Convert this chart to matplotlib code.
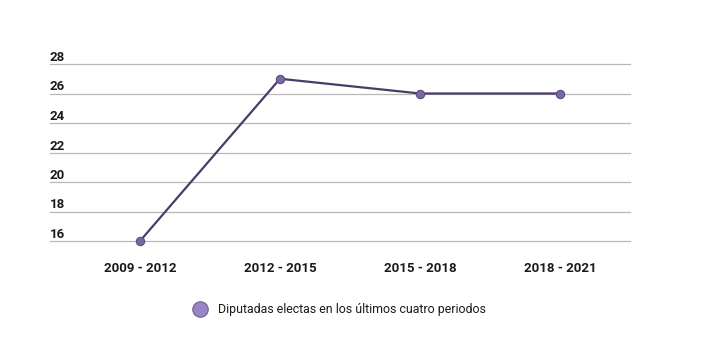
import matplotlib.pyplot as plt
import matplotlib.transforms as mtransforms

periods = ['2009 - 2012', '2012 - 2015', '2015 - 2018', '2018 - 2021']
diputadas = [16, 27, 26, 26]
yticks = [16, 18, 20, 22, 24, 26, 28]
series_label = 'Diputadas electas en los últimos cuatro periodos'


def main():
    plt.rcParams['font.family'] = ['Roboto', 'DejaVu Sans']
    fig = plt.figure(figsize=(7.01, 3.51), dpi=100)
    ax = fig.add_axes([50 / 701, 1 - 241 / 351, 580 / 701, 177 / 351])

    xs = list(range(len(periods)))
    ax.plot(xs, diputadas, color='#4b3c66', lw=1.6, zorder=3, clip_on=False)
    ax.scatter(xs, diputadas, s=36, color='#7a68a0', edgecolors='#5d4d80',
               linewidths=0.8, zorder=4, clip_on=False)

    ax.set_xlim(-0.643, 3.5)
    ax.set_ylim(16, 28)
    for v in yticks:
        ax.axhline(v, color='#b8b8b8', lw=0.9, zorder=1, clip_on=False)

    # y labels sit above each grid line, left aligned
    trans = mtransforms.blended_transform_factory(ax.transAxes, ax.transData)
    offset = mtransforms.ScaledTranslation(0, 3 / 100, fig.dpi_scale_trans)
    for v in yticks:
        ax.text(0.0, v, str(v), transform=trans + offset, ha='left', va='baseline',
                fontsize=9.5, color='#1a1a1a', fontweight='semibold')
    ax.set_yticks([])

    ax.set_xticks(xs)
    ax.set_xticklabels(periods, fontsize=9.5, fontweight='semibold', color='#1a1a1a')
    ax.tick_params(axis='x', length=0, pad=15)
    for s in ax.spines.values():
        s.set_visible(False)

    # legend
    fig.lines.append(plt.Line2D([200 / 701], [1 - 309 / 351], marker='o', markersize=11,
                                color='#9b84c6', markeredgecolor='#7a68a0',
                                transform=fig.transFigure))
    fig.text(218 / 701, 1 - 309 / 351, series_label, fontsize=8.9,
             va='center', ha='left', color='#1a1a1a')

    fig.savefig('out.png', dpi=100, facecolor='white')


if __name__ == '__main__':
    main()
